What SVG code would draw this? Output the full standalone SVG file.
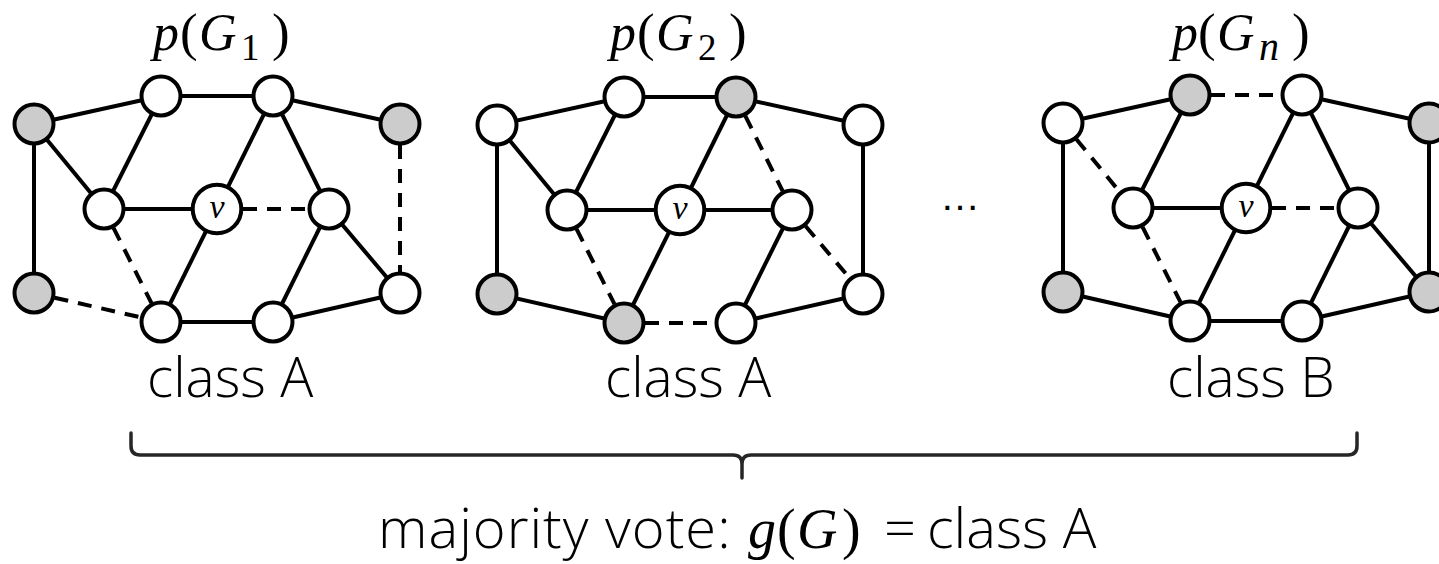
<svg xmlns="http://www.w3.org/2000/svg" width="1439" height="564" viewBox="0 0 1439 564">
<style>
.e{stroke:#000;stroke-width:4;fill:none}
.d{stroke-dasharray:14 10}
.n circle{fill:#fff;stroke:#000;stroke-width:4}
.n.g circle{fill:#ccc}
.vl{font-family:"Liberation Serif",serif;font-style:italic;font-size:34px;text-anchor:middle}
.math{font-family:"Liberation Serif",serif;font-style:italic;font-size:52px}
.up{font-style:normal;font-size:53px}
.sub{font-size:37px;font-style:normal}
.subi{font-size:40px;font-style:italic}
.lbl{font-family:"Open Sans","Liberation Sans",sans-serif;font-weight:300;font-size:55px}
.res{font-family:"Open Sans","Liberation Sans",sans-serif;font-weight:300;font-size:56px}
.rm{font-family:"Liberation Serif",serif;font-weight:400}
.brace{stroke:#262626;stroke-width:3.5;fill:none;stroke-linecap:round;stroke-linejoin:round}
</style>

<!-- Titles -->
<g id="title1"><text class="math" y="50"><tspan x="153">p</tspan><tspan class="up" x="180">(</tspan><tspan x="199">G</tspan><tspan class="sub" x="241" y="60">1</tspan><tspan class="up" x="272" y="50">)</tspan></text></g>
<g id="title2"><text class="math" y="50"><tspan x="610">p</tspan><tspan class="up" x="637">(</tspan><tspan x="656">G</tspan><tspan class="sub" x="698" y="60">2</tspan><tspan class="up" x="729" y="50">)</tspan></text></g>
<g id="titlen"><text class="math" y="50"><tspan x="1172">p</tspan><tspan class="up" x="1198">(</tspan><tspan x="1217">G</tspan><tspan class="subi" x="1259" y="60">n</tspan><tspan class="up" x="1292" y="50">)</tspan></text></g>

<!-- Graph 1 -->
<g id="graph1">
<g id="g1-connectors">
<line class="e" x1="34" y1="124" x2="161" y2="96"/>
<line class="e" x1="161" y1="96" x2="273" y2="96"/>
<line class="e" x1="273" y1="96" x2="400" y2="124"/>
<line class="e" x1="34" y1="124" x2="104" y2="209"/>
<line class="e" x1="34" y1="124" x2="34" y2="293"/>
<line class="e" x1="161" y1="96" x2="104" y2="209"/>
<line class="e" x1="104" y1="209" x2="217" y2="209"/>
<line class="e" x1="273" y1="96" x2="217" y2="209"/>
<line class="e" x1="273" y1="96" x2="329" y2="209"/>
<line class="e" x1="217" y1="209" x2="161" y2="322"/>
<line class="e" x1="161" y1="322" x2="273" y2="322"/>
<line class="e" x1="329" y1="209" x2="273" y2="322"/>
<line class="e" x1="329" y1="209" x2="400" y2="293"/>
<line class="e" x1="273" y1="322" x2="400" y2="293"/>
<line class="e d" x1="243" y1="209" x2="308" y2="209"/>
<line class="e d" x1="400" y1="145" x2="400" y2="272"/>
<line class="e d" x1="113.5" y1="227.8" x2="151.5" y2="303.2"/>
<line class="e d" x1="54.5" y1="297.7" x2="140.5" y2="317.3"/>
</g>
<g id="g1-TL" class="n g"><circle cx="34" cy="124" r="19.5"/></g>
<g id="g1-T2" class="n"><circle cx="161" cy="96" r="19.5"/></g>
<g id="g1-T3" class="n"><circle cx="273" cy="96" r="19.5"/></g>
<g id="g1-TR" class="n g"><circle cx="400" cy="124" r="19.5"/></g>
<g id="g1-ML" class="n"><circle cx="104" cy="209" r="19.5"/></g>
<g id="g1-v" class="n"><circle cx="217" cy="209" r="24.3"/><text class="vl" x="217" y="218">v</text></g>
<g id="g1-MR" class="n"><circle cx="329" cy="209" r="19.5"/></g>
<g id="g1-BL" class="n g"><circle cx="34" cy="293" r="19.5"/></g>
<g id="g1-B2" class="n"><circle cx="161" cy="322" r="19.5"/></g>
<g id="g1-B3" class="n"><circle cx="273" cy="322" r="19.5"/></g>
<g id="g1-BR" class="n"><circle cx="400" cy="293" r="19.5"/></g>
</g>

<!-- Graph 2 -->
<g id="graph2" transform="translate(463,1)">
<g id="g2-connectors">
<line class="e" x1="34" y1="124" x2="161" y2="96"/>
<line class="e" x1="161" y1="96" x2="273" y2="96"/>
<line class="e" x1="273" y1="96" x2="400" y2="124"/>
<line class="e" x1="34" y1="124" x2="104" y2="209"/>
<line class="e" x1="34" y1="124" x2="34" y2="293"/>
<line class="e" x1="161" y1="96" x2="104" y2="209"/>
<line class="e" x1="104" y1="209" x2="217" y2="209"/>
<line class="e" x1="217" y1="209" x2="329" y2="209"/>
<line class="e" x1="273" y1="96" x2="217" y2="209"/>
<line class="e" x1="400" y1="124" x2="400" y2="293"/>
<line class="e" x1="34" y1="293" x2="161" y2="322"/>
<line class="e" x1="217" y1="209" x2="161" y2="322"/>
<line class="e" x1="329" y1="209" x2="273" y2="322"/>
<line class="e" x1="273" y1="322" x2="400" y2="293"/>
<line class="e d" x1="282.3" y1="114.8" x2="319.7" y2="190.2"/>
<line class="e d" x1="113.5" y1="227.8" x2="151.5" y2="303.2"/>
<line class="e d" x1="182" y1="322" x2="252" y2="322"/>
<line class="e d" x1="342.5" y1="225" x2="386.5" y2="277"/>
</g>
<g id="g2-TL" class="n"><circle cx="34" cy="124" r="19.5"/></g>
<g id="g2-T2" class="n"><circle cx="161" cy="96" r="19.5"/></g>
<g id="g2-T3" class="n g"><circle cx="273" cy="96" r="19.5"/></g>
<g id="g2-TR" class="n"><circle cx="400" cy="124" r="19.5"/></g>
<g id="g2-ML" class="n"><circle cx="104" cy="209" r="19.5"/></g>
<g id="g2-v" class="n"><circle cx="217" cy="209" r="24.3"/><text class="vl" x="217" y="218">v</text></g>
<g id="g2-MR" class="n"><circle cx="329" cy="209" r="19.5"/></g>
<g id="g2-BL" class="n g"><circle cx="34" cy="293" r="19.5"/></g>
<g id="g2-B2" class="n g"><circle cx="161" cy="322" r="19.5"/></g>
<g id="g2-B3" class="n"><circle cx="273" cy="322" r="19.5"/></g>
<g id="g2-BR" class="n"><circle cx="400" cy="293" r="19.5"/></g>
</g>

<!-- Ellipsis -->
<g id="ellipsis"><text x="960" y="210" style="font-family:'Liberation Sans',sans-serif;font-size:40px;text-anchor:middle">…</text></g>

<!-- Graph n -->
<g id="graph3" transform="translate(1029,-1)">
<g id="g3-connectors">
<line class="e" x1="34" y1="124" x2="161" y2="96"/>
<line class="e" x1="273" y1="96" x2="400" y2="124"/>
<line class="e" x1="34" y1="124" x2="34" y2="293"/>
<line class="e" x1="161" y1="96" x2="104" y2="209"/>
<line class="e" x1="104" y1="209" x2="217" y2="209"/>
<line class="e" x1="273" y1="96" x2="217" y2="209"/>
<line class="e" x1="273" y1="96" x2="329" y2="209"/>
<line class="e" x1="400" y1="124" x2="400" y2="293"/>
<line class="e" x1="34" y1="293" x2="161" y2="322"/>
<line class="e" x1="217" y1="209" x2="161" y2="322"/>
<line class="e" x1="161" y1="322" x2="273" y2="322"/>
<line class="e" x1="329" y1="209" x2="273" y2="322"/>
<line class="e" x1="329" y1="209" x2="400" y2="293"/>
<line class="e" x1="273" y1="322" x2="400" y2="293"/>
<line class="e d" x1="182" y1="96" x2="252" y2="96"/>
<line class="e d" x1="47.4" y1="140.2" x2="90.6" y2="192.8"/>
<line class="e d" x1="243" y1="209" x2="308" y2="209"/>
<line class="e d" x1="113.5" y1="227.8" x2="151.5" y2="303.2"/>
</g>
<g id="g3-TL" class="n"><circle cx="34" cy="124" r="19.5"/></g>
<g id="g3-T2" class="n g"><circle cx="161" cy="96" r="19.5"/></g>
<g id="g3-T3" class="n"><circle cx="273" cy="96" r="19.5"/></g>
<g id="g3-TR" class="n g"><circle cx="400" cy="124" r="19.5"/></g>
<g id="g3-ML" class="n"><circle cx="104" cy="209" r="19.5"/></g>
<g id="g3-v" class="n"><circle cx="217" cy="209" r="24.3"/><text class="vl" x="217" y="218">v</text></g>
<g id="g3-MR" class="n"><circle cx="329" cy="209" r="19.5"/></g>
<g id="g3-BL" class="n g"><circle cx="34" cy="293" r="19.5"/></g>
<g id="g3-B2" class="n"><circle cx="161" cy="322" r="19.5"/></g>
<g id="g3-B3" class="n"><circle cx="273" cy="322" r="19.5"/></g>
<g id="g3-BR" class="n g"><circle cx="400" cy="293" r="19.5"/></g>
</g>

<!-- Class labels -->
<g id="label1"><text class="lbl" x="147" y="397">class A</text></g>
<g id="label2"><text class="lbl" x="605" y="397">class A</text></g>
<g id="labeln"><text class="lbl" x="1167" y="397">class B</text></g>

<!-- Brace -->
<g id="brace">
<path class="brace" d="M131,433 L131,446 Q131,455 140,455 L733,455 Q742,455 742,464 L742,478 M742,464 Q742,455 751,455 L1348,455 Q1357,455 1357,446 L1357,433"/>
</g>

<!-- Result -->
<g id="result"><text class="res" y="548"><tspan x="378" style="letter-spacing:1px">majority vote:</tspan><tspan class="rm" x="748" style="font-style:italic">g</tspan><tspan class="rm" x="777">(</tspan><tspan class="rm" x="797" style="font-style:italic">G</tspan><tspan class="rm" x="842">)</tspan><tspan x="884">=</tspan><tspan x="927">class A</tspan></text></g>
</svg>
